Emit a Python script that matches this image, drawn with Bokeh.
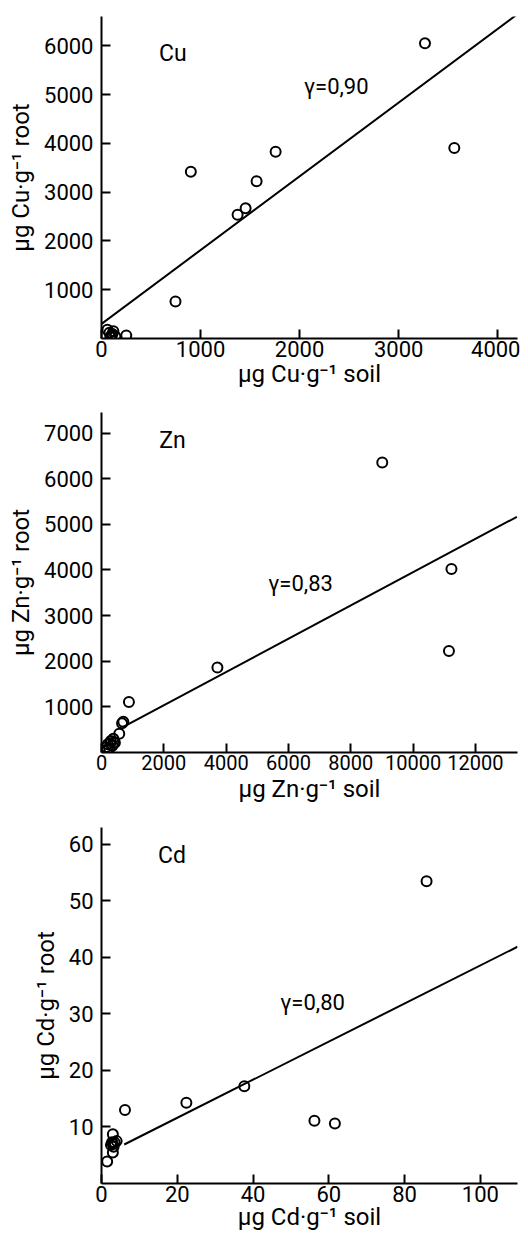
from bokeh.plotting import figure
from bokeh.layouts import column
from bokeh.models import FixedTicker, Label, Range1d
from bokeh.embed import file_html
from bokeh.resources import INLINE

FONT = "Roboto"

# ---- Cu ----
cu_soil = [3266, 3562, 1758, 1566, 902, 1455, 1374, 747, 250, 60, 80, 100, 120, 140, 90, 110]
cu_root = [6050, 3905, 3830, 3225, 3420, 2670, 2535, 760, 60, 180, 120, 60, 150, 40, 30, 90]
cu_fit_x = [0, 4200]
cu_fit_y = [300, 6650]
cu_xticks = [0, 1000, 2000, 3000, 4000]
cu_yticks = [1000, 2000, 3000, 4000, 5000, 6000]

# ---- Zn ----
zn_soil = [9010, 11230, 11150, 3720, 880, 700, 660, 570, 430, 150, 200, 250, 300, 350, 400, 180, 380, 280]
zn_root = [6355, 4020, 2225, 1860, 1107, 675, 640, 412, 215, 120, 180, 90, 250, 150, 220, 60, 300, 200]
zn_fit_x = [700, 13330]
zn_fit_y = [560, 5165]
zn_xticks = [0, 2000, 4000, 6000, 8000, 10000, 12000]
zn_yticks = [1000, 2000, 3000, 4000, 5000, 6000, 7000]

# ---- Cd ----
cd_soil = [85.8, 56.2, 61.6, 37.7, 22.4, 6.2, 3.0, 1.5, 3.0, 3.5, 2.5, 3.2, 4.0, 2.8, 3.0]
cd_root = [53.5, 11.1, 10.6, 17.2, 14.3, 13.0, 8.7, 3.9, 7.0, 7.2, 6.8, 6.5, 7.5, 7.3, 5.5]
cd_fit_x = [6.0, 109.8]
cd_fit_y = [6.9, 41.9]
cd_xticks = [0, 20, 40, 60, 80, 100]
cd_yticks = [10, 20, 30, 40, 50, 60]


def panel(xs, ys, fx, fy, xt, yt, xr, yr, h, bt, bb, elem, r_text, elem_pos, r_pos,
          lab_sd, xfs):
    p = figure(width=520, height=h, output_backend="svg", toolbar_location=None,
               x_range=Range1d(0, xr), y_range=Range1d(0, yr),
               min_border_left=101, min_border_right=3, min_border_top=bt,
               min_border_bottom=bb)
    p.outline_line_color = None
    p.xgrid.visible = False
    p.ygrid.visible = False
    p.background_fill_color = "white"
    p.border_fill_color = "white"

    p.line(fx, fy, line_color="black", line_width=2)
    p.scatter(xs, ys, marker="circle", size=10, fill_color=None,
              line_color="black", line_width=2)

    for ax, ticks, fs in ((p.xaxis[0], xt, xfs), (p.yaxis[0], yt, "22px")):
        ax.ticker = FixedTicker(ticks=ticks)
        ax.axis_line_width = 2
        ax.axis_line_color = "black"
        ax.major_tick_line_width = 2
        ax.major_tick_line_color = "black"
        ax.major_tick_in = 9
        ax.major_tick_out = 0
        ax.minor_tick_line_color = None
        ax.major_label_text_font = FONT
        ax.major_label_text_font_size = fs
        ax.major_label_text_color = "black"
        ax.axis_label_text_font = FONT
        ax.axis_label_text_font_size = "24px"
        ax.axis_label_text_font_style = "normal"
        ax.axis_label_text_color = "black"

    p.xaxis[0].axis_label = "μg %s·g⁻¹ soil" % elem
    p.yaxis[0].axis_label = "μg %s·g⁻¹ root" % elem
    p.xaxis[0].major_label_standoff = 2
    p.xaxis[0].axis_label_standoff = lab_sd
    p.yaxis[0].major_label_standoff = 8
    p.yaxis[0].axis_label_standoff = 6

    p.add_layout(Label(x=elem_pos[0], y=elem_pos[1], text=elem,
                       text_align="left", text_baseline="middle",
                       text_font=FONT, text_font_size="23px", text_color="black"))
    p.add_layout(Label(x=r_pos[0], y=r_pos[1], text=r_text,
                       text_align="left", text_baseline="middle",
                       text_font=FONT, text_font_size="22px", text_color="black"))
    return p


p1 = panel(cu_soil, cu_root, cu_fit_x, cu_fit_y, cu_xticks, cu_yticks,
           4200, 6600, 404, 16, 66, "Cu", "γ=0,90", (580, 5840), (2045, 5166), 0, "22px")
p2 = panel(zn_soil, zn_root, zn_fit_x, zn_fit_y, zn_xticks, zn_yticks,
           13350, 7450, 410, 8, 62, "Zn", "γ=0,83", (1850, 6830), (5354, 3695), 2, "20px")
p3 = panel(cd_soil, cd_root, cd_fit_x, cd_fit_y, cd_xticks, cd_yticks,
           109.8, 63.0, 425, 13, 56, "Cd", "γ=0,80", (14.9, 58.1), (47.2, 32.0), -2, "22px")

layout = column(p1, p2, p3, spacing=0)
open("out.html", "w").write(file_html(layout, INLINE))
